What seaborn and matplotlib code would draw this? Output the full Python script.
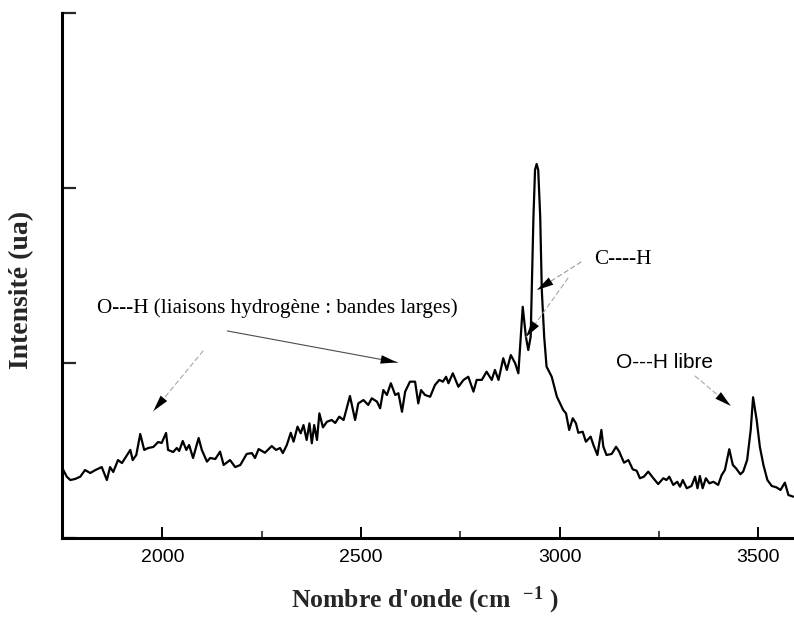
import matplotlib
matplotlib.use("Agg")
import matplotlib.pyplot as plt
import pandas as pd
import seaborn as sns

# Raman-type spectrum: wavenumber (cm-1) and intensity (arbitrary units)
wavenumber = [
    1749, 1759, 1768, 1780, 1793, 1805, 1818, 1831, 1847, 1860, 1868, 1876,
    1888, 1898, 1906, 1919, 1925, 1934, 1944, 1954, 1964, 1977, 1989, 1998,
    2009, 2014, 2027, 2036, 2042, 2051, 2060, 2067, 2077, 2091, 2099, 2112,
    2120, 2133, 2145, 2154, 2170, 2183, 2196, 2212, 2225, 2233, 2242, 2258,
    2275, 2286, 2296, 2303, 2313, 2323, 2330, 2340, 2348, 2355, 2363, 2370,
    2376, 2382, 2389, 2395, 2404, 2414, 2426, 2435, 2445, 2456, 2472, 2485,
    2493, 2506, 2518, 2527, 2540, 2548, 2556, 2565, 2575, 2586, 2594, 2603,
    2611, 2623, 2636, 2644, 2651, 2661, 2674, 2686, 2697, 2706, 2714, 2720,
    2731, 2745, 2758, 2770, 2783, 2791, 2804, 2816, 2829, 2837, 2846, 2858,
    2867, 2877, 2888, 2896, 2907, 2915, 2921, 2927, 2934, 2938, 2942, 2946,
    2951, 2955, 2961, 2967, 2980, 2993, 3009, 3016, 3024, 3033, 3041, 3047,
    3058, 3066, 3078, 3085, 3095, 3105, 3110, 3118, 3131, 3142, 3150, 3162,
    3173, 3184, 3194, 3202, 3212, 3223, 3236, 3248, 3261, 3269, 3276, 3286,
    3296, 3303, 3310, 3320, 3332, 3341, 3347, 3353, 3360, 3368, 3377, 3387,
    3399, 3408, 3416, 3427, 3436, 3444, 3455, 3462, 3472, 3481, 3487, 3496,
    3504, 3513, 3523, 3534, 3546, 3556, 3567, 3576, 3588,
]
intensity = [
    0.396, 0.352, 0.333, 0.339, 0.352, 0.390, 0.373, 0.390, 0.407, 0.333, 0.407, 0.379,
    0.447, 0.430, 0.459, 0.505, 0.447, 0.476, 0.596, 0.505, 0.516, 0.522, 0.550, 0.545,
    0.602, 0.505, 0.493, 0.516, 0.499, 0.556, 0.505, 0.533, 0.459, 0.573, 0.505, 0.438,
    0.459, 0.453, 0.495, 0.419, 0.447, 0.407, 0.419, 0.482, 0.487, 0.459, 0.510, 0.489,
    0.527, 0.505, 0.516, 0.487, 0.533, 0.603, 0.552, 0.638, 0.600, 0.647, 0.562, 0.657,
    0.543, 0.647, 0.562, 0.714, 0.634, 0.666, 0.676, 0.659, 0.695, 0.676, 0.813, 0.676,
    0.771, 0.790, 0.762, 0.800, 0.781, 0.743, 0.847, 0.819, 0.886, 0.819, 0.829, 0.723,
    0.838, 0.895, 0.895, 0.771, 0.847, 0.819, 0.809, 0.876, 0.905, 0.895, 0.923, 0.886,
    0.943, 0.866, 0.905, 0.923, 0.838, 0.905, 0.905, 0.952, 0.905, 0.962, 0.905, 1.029,
    0.962, 1.047, 1.000, 0.943, 1.323, 1.152, 1.076, 1.152, 1.838, 2.105, 2.139, 2.105,
    1.838, 1.419, 1.152, 0.981, 0.923, 0.809, 0.733, 0.714, 0.619, 0.686, 0.657, 0.603,
    0.609, 0.552, 0.581, 0.533, 0.476, 0.619, 0.523, 0.476, 0.482, 0.523, 0.495, 0.432,
    0.447, 0.394, 0.386, 0.343, 0.352, 0.381, 0.343, 0.310, 0.343, 0.333, 0.352, 0.305,
    0.323, 0.295, 0.333, 0.286, 0.299, 0.352, 0.286, 0.356, 0.286, 0.343, 0.314, 0.323,
    0.305, 0.362, 0.390, 0.509, 0.419, 0.400, 0.366, 0.381, 0.447, 0.619, 0.806, 0.676,
    0.523, 0.419, 0.333, 0.299, 0.291, 0.276, 0.318, 0.247, 0.238,
]

x_major = [2000, 2500, 3000, 3500]
x_minor = [2250, 2750, 3250]
y_major = [0, 1, 2, 3]

sns.set_style("white")
plt.rcParams["font.family"] = ["Liberation Sans", "DejaVu Sans"]
plt.rcParams["mathtext.fontset"] = "custom"
plt.rcParams["mathtext.rm"] = "Liberation Serif:bold"
plt.rcParams["mathtext.bf"] = "Liberation Serif:bold"
plt.rcParams["mathtext.default"] = "bf"

fig = plt.figure(figsize=(7.94, 6.18), dpi=100)
ax = fig.add_axes([62 / 794, 79.7 / 618, 732 / 794, 525 / 618])

df = pd.DataFrame({"wavenumber": wavenumber, "intensity": intensity})
sns.lineplot(data=df, x="wavenumber", y="intensity", ax=ax, color="black",
             linewidth=1.6, estimator=None, sort=False)

ax.set_xlim(1747, 3590)
ax.set_ylim(0, 3)

for side in ("top", "right"):
    ax.spines[side].set_visible(False)
for side in ("left", "bottom"):
    ax.spines[side].set_color("black")
    ax.spines[side].set_linewidth(2.2)

ax.set_xticks(x_major)
ax.set_xticks(x_minor, minor=True)
ax.set_yticks(y_major)
ax.set_yticklabels([])
ax.tick_params(axis="x", which="major", direction="in", length=8, width=1.4,
               pad=8, labelsize=14, bottom=True, colors="black")
ax.tick_params(axis="x", which="minor", direction="in", length=5, width=1.2,
               bottom=True)
ax.tick_params(axis="y", which="major", direction="in", length=10, width=1.6,
               left=True)
ax.tick_params(axis="y", which="minor", left=False)

ax.set_xlabel("Nombre d'onde (cm  $^{-1}$ )", va="center",
              family="Liberation Serif", weight="bold", size=18.5)
ax.xaxis.set_label_coords(0.496, -0.1175)
ax.set_ylabel("Intensité (ua)", va="center",
              family="Liberation Serif", weight="bold", size=20)
ax.yaxis.set_label_coords(-0.0546, 0.473)

serif = dict(family="Liberation Serif", size=15.2, color="black")
sans = dict(family="Liberation Sans", size=15, color="black")

ax.text(1836, 1.316, "O---H (liaisons hydrogène : bandes larges)",
        ha="left", va="center", **serif)
ax.text(3160, 1.596, "C----H", ha="center", va="center", **serif)
ax.text(3265, 1.007, "O---H libre", ha="center", va="center", **sans)


def pointer(start, tip, line_color, dashed):
    style = (0, (4, 3)) if dashed else "-"
    ax.annotate("", xy=tip, xytext=start,
                arrowprops=dict(arrowstyle="-", color=line_color, lw=0.8,
                                linestyle=style, shrinkA=0, shrinkB=0))
    ax.annotate("", xy=tip, xytext=start,
                arrowprops=dict(arrowstyle="-|>,head_length=0.85,head_width=0.22",
                                mutation_scale=14, lw=0, fc="black", ec="black",
                                shrinkA=0, shrinkB=0))


pointer((2163, 1.185), (2591, 1.005), "0.3", False)
pointer((2102, 1.070), (1977, 0.727), "0.65", True)
pointer((3054, 1.579), (2943, 1.419), "0.6", True)
pointer((3021, 1.487), (2915, 1.150), "0.65", True)
pointer((3341, 0.927), (3431, 0.756), "0.65", True)

fig.savefig("out.png", dpi=100)
